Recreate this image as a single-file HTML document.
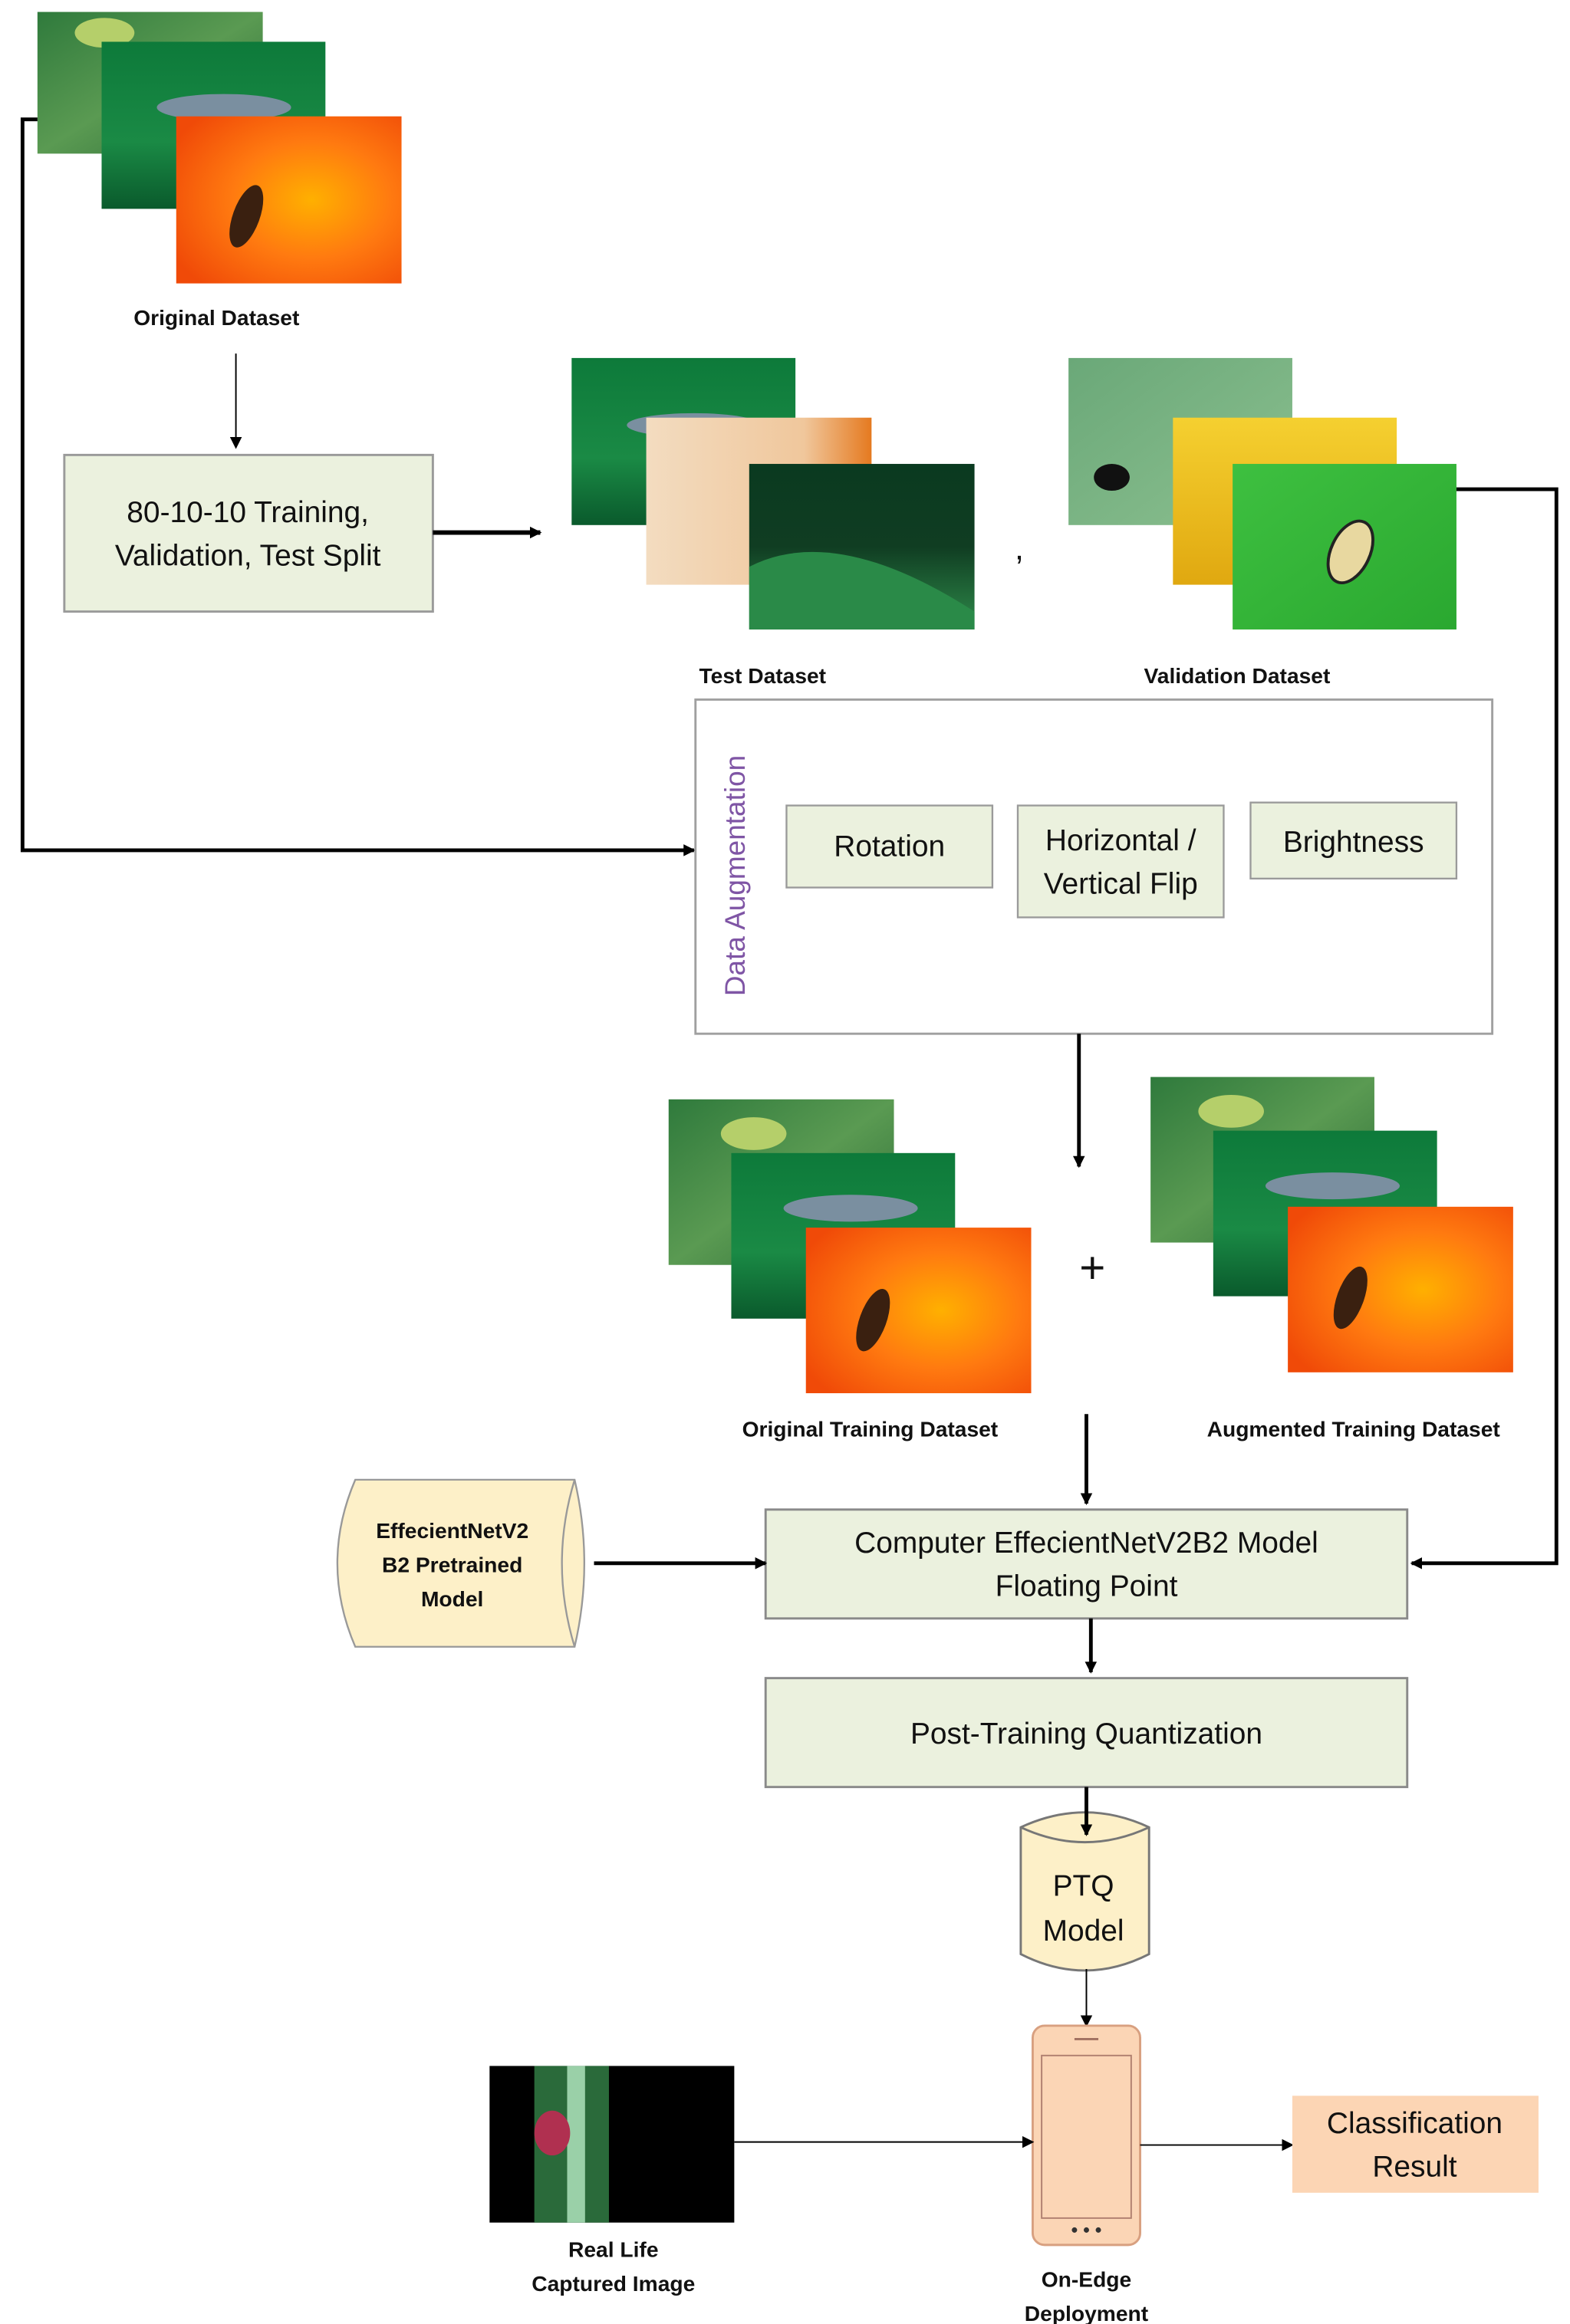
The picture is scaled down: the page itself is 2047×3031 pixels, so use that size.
<!DOCTYPE html>
<html><head><meta charset="utf-8"><style>
html,body{margin:0;padding:0;background:#fff}
svg{display:block}
text{font-family:"Liberation Sans",sans-serif;fill:#111}
</style></head><body>
<svg width="2047" height="3031" viewBox="0 0 1052 1558" xmlns="http://www.w3.org/2000/svg">
<defs>
<marker id="a" markerWidth="8" markerHeight="8" refX="7" refY="4" orient="auto" markerUnits="userSpaceOnUse"><path d="M0,0 L8,4 L0,8 z" fill="#000"/></marker>
<linearGradient id="gs" x1="0" y1="0" x2="1" y2="1"><stop offset="0" stop-color="#2f7a3c"/><stop offset="0.5" stop-color="#5a9a52"/><stop offset="1" stop-color="#2a6a35"/></linearGradient>
<linearGradient id="gd" x1="0" y1="0" x2="0" y2="1"><stop offset="0" stop-color="#0d7a3a"/><stop offset="0.6" stop-color="#1a8a45"/><stop offset="1" stop-color="#0a5a2c"/></linearGradient>
<radialGradient id="go" cx="0.6" cy="0.5" r="0.7"><stop offset="0" stop-color="#ffb000"/><stop offset="0.5" stop-color="#ff7a10"/><stop offset="1" stop-color="#f04a08"/></radialGradient>
<linearGradient id="gb" x1="0" y1="0" x2="1" y2="0"><stop offset="0" stop-color="#f3dcc0"/><stop offset="0.7" stop-color="#f0c79c"/><stop offset="1" stop-color="#e57a20"/></linearGradient>
<linearGradient id="gk" x1="0" y1="0" x2="0" y2="1"><stop offset="0" stop-color="#0a3a20"/><stop offset="0.5" stop-color="#103d22"/><stop offset="1" stop-color="#2e8a4a"/></linearGradient>
<linearGradient id="gl" x1="0" y1="0" x2="1" y2="1"><stop offset="0" stop-color="#6aa878"/><stop offset="1" stop-color="#8cc090"/></linearGradient>
<linearGradient id="gy" x1="0" y1="0" x2="0" y2="1"><stop offset="0" stop-color="#f5d030"/><stop offset="1" stop-color="#e0a810"/></linearGradient>
<linearGradient id="gg" x1="0" y1="0" x2="1" y2="1"><stop offset="0" stop-color="#3ec040"/><stop offset="1" stop-color="#2aa830"/></linearGradient>
</defs>

<!-- Original dataset images -->
<rect x="25" y="8" width="151" height="95" fill="url(#gs)"/>
<ellipse cx="70" cy="22" rx="20" ry="10" fill="#b5cf6a"/>
<rect x="68" y="28" width="150" height="112" fill="url(#gd)"/>
<ellipse cx="150" cy="72" rx="45" ry="9" fill="#7a8fa0"/>
<rect x="118" y="78" width="151" height="112" fill="url(#go)"/>
<ellipse cx="165" cy="145" rx="9" ry="22" fill="#3a2010" transform="rotate(20 165 145)"/>
<text x="145" y="218" font-size="14.5" font-weight="bold" text-anchor="middle">Original Dataset</text>

<line x1="158" y1="237" x2="158" y2="300" stroke="#000" stroke-width="1" marker-end="url(#a)"/>
<rect x="43" y="305" width="247" height="105" fill="#ebf1de" stroke="#9a9a9a" stroke-width="1.5"/>
<text x="166" y="350" font-size="20" text-anchor="middle">80-10-10 Training,</text>
<text x="166" y="379" font-size="20" text-anchor="middle">Validation, Test Split</text>
<line x1="290" y1="357" x2="362" y2="357" stroke="#000" stroke-width="3" marker-end="url(#a)"/>

<!-- Test dataset -->
<rect x="383" y="240" width="150" height="112" fill="url(#gd)"/>
<ellipse cx="465" cy="285" rx="45" ry="8" fill="#7a8fa0"/>
<rect x="433" y="280" width="151" height="112" fill="url(#gb)"/>
<rect x="502" y="311" width="151" height="111" fill="url(#gk)"/>
<path d="M502 380 Q560 350 653 410 L653 422 L502 422z" fill="#2a8a48"/>
<text x="683" y="375" font-size="22" text-anchor="middle">,</text>
<!-- Validation -->
<rect x="716" y="240" width="150" height="112" fill="url(#gl)"/>
<ellipse cx="745" cy="320" rx="12" ry="9" fill="#111"/>
<rect x="786" y="280" width="150" height="112" fill="url(#gy)"/>
<rect x="826" y="311" width="150" height="111" fill="url(#gg)"/>
<ellipse cx="905" cy="370" rx="13" ry="22" fill="#e8d8a0" stroke="#222" stroke-width="2" transform="rotate(25 905 370)"/>
<text x="511" y="458" font-size="14.5" font-weight="bold" text-anchor="middle">Test Dataset</text>
<text x="829" y="458" font-size="14.5" font-weight="bold" text-anchor="middle">Validation Dataset</text>

<polyline points="976,328 1043,328 1043,1048 946,1048" fill="none" stroke="#000" stroke-width="2.5" marker-end="url(#a)"/>
<polyline points="25,80 15,80 15,570 465,570" fill="none" stroke="#000" stroke-width="2.5" marker-end="url(#a)"/>

<!-- Augmentation box -->
<rect x="466" y="469" width="534" height="224" fill="#fff" stroke="#a0a0a0" stroke-width="1.5"/>
<text x="0" y="0" font-size="19" fill="#7f55a5" style="fill:#7f55a5" text-anchor="middle" transform="translate(499 587) rotate(-90)">Data Augmentation</text>
<rect x="527" y="540" width="138" height="55" fill="#ebf1de" stroke="#9a9a9a" stroke-width="1.2"/>
<text x="596" y="574" font-size="20" text-anchor="middle">Rotation</text>
<rect x="682" y="540" width="138" height="75" fill="#ebf1de" stroke="#9a9a9a" stroke-width="1.2"/>
<text x="751" y="570" font-size="20" text-anchor="middle">Horizontal /</text>
<text x="751" y="599" font-size="20" text-anchor="middle">Vertical Flip</text>
<rect x="838" y="538" width="138" height="51" fill="#ebf1de" stroke="#9a9a9a" stroke-width="1.2"/>
<text x="907" y="571" font-size="20" text-anchor="middle">Brightness</text>
<line x1="723" y1="693" x2="723" y2="782" stroke="#000" stroke-width="2.5" marker-end="url(#a)"/>

<!-- Training sets -->
<rect x="448" y="737" width="151" height="111" fill="url(#gs)"/>
<ellipse cx="505" cy="760" rx="22" ry="11" fill="#b5cf6a"/>
<rect x="490" y="773" width="150" height="111" fill="url(#gd)"/>
<ellipse cx="570" cy="810" rx="45" ry="9" fill="#7a8fa0"/>
<rect x="540" y="823" width="151" height="111" fill="url(#go)"/>
<ellipse cx="585" cy="885" rx="9" ry="22" fill="#3a2010" transform="rotate(20 585 885)"/>
<text x="732" y="860" font-size="30" text-anchor="middle">+</text>
<rect x="771" y="722" width="150" height="111" fill="url(#gs)"/>
<ellipse cx="825" cy="745" rx="22" ry="11" fill="#b5cf6a"/>
<rect x="813" y="758" width="150" height="111" fill="url(#gd)"/>
<ellipse cx="893" cy="795" rx="45" ry="9" fill="#7a8fa0"/>
<rect x="863" y="809" width="151" height="111" fill="url(#go)"/>
<ellipse cx="905" cy="870" rx="9" ry="22" fill="#3a2010" transform="rotate(20 905 870)"/>
<text x="583" y="963" font-size="14.5" font-weight="bold" text-anchor="middle">Original Training Dataset</text>
<text x="907" y="963" font-size="14.5" font-weight="bold" text-anchor="middle">Augmented Training Dataset</text>

<line x1="728" y1="948" x2="728" y2="1008" stroke="#000" stroke-width="2.5" marker-end="url(#a)"/>
<rect x="513" y="1012" width="430" height="73" fill="#ebf1de" stroke="#8a8a8a" stroke-width="1.5"/>
<text x="728" y="1041" font-size="20" text-anchor="middle">Computer EffecientNetV2B2 Model</text>
<text x="728" y="1070" font-size="20" text-anchor="middle">Floating Point</text>

<!-- horizontal cylinder -->
<path d="M238 992 L385 992 Q398 1048 385 1104 L238 1104 Q214 1048 238 992z" fill="#fdf0c8" stroke="#999" stroke-width="1.2"/>
<path d="M385 992 Q368 1048 385 1104" fill="none" stroke="#999" stroke-width="1.2"/>
<text x="303" y="1031" font-size="14.5" font-weight="bold" text-anchor="middle">EffecientNetV2</text>
<text x="303" y="1054" font-size="14.5" font-weight="bold" text-anchor="middle">B2 Pretrained</text>
<text x="303" y="1077" font-size="14.5" font-weight="bold" text-anchor="middle">Model</text>
<line x1="398" y1="1048" x2="513" y2="1048" stroke="#000" stroke-width="2.5" marker-end="url(#a)"/>

<line x1="731" y1="1085" x2="731" y2="1121" stroke="#000" stroke-width="2.5" marker-end="url(#a)"/>
<rect x="513" y="1125" width="430" height="73" fill="#ebf1de" stroke="#8a8a8a" stroke-width="1.5"/>
<text x="728" y="1169" font-size="20" text-anchor="middle">Post-Training Quantization</text>

<!-- PTQ cylinder -->
<path d="M684 1225 Q727 1205 770 1225 L770 1310 Q727 1332 684 1310z" fill="#fdf0c8" stroke="#777" stroke-width="1.5"/>
<path d="M684 1225 Q727 1245 770 1225" fill="none" stroke="#777" stroke-width="1.5"/>
<line x1="728" y1="1198" x2="728" y2="1230" stroke="#000" stroke-width="2.5" marker-end="url(#a)"/>
<text x="726" y="1271" font-size="20" text-anchor="middle">PTQ</text>
<text x="726" y="1301" font-size="20" text-anchor="middle">Model</text>
<line x1="728" y1="1320" x2="728" y2="1358" stroke="#000" stroke-width="1" marker-end="url(#a)"/>

<!-- phone -->
<rect x="692" y="1358" width="72" height="147" rx="8" fill="#fbd5b5" stroke="#d8a080" stroke-width="1.5"/>
<rect x="698" y="1378" width="60" height="109" fill="#fbd5b5" stroke="#b08070" stroke-width="1"/>
<line x1="720" y1="1367" x2="736" y2="1367" stroke="#a07060" stroke-width="1.5"/>
<circle cx="720" cy="1495" r="1.8" fill="#333"/><circle cx="728" cy="1495" r="1.8" fill="#333"/><circle cx="736" cy="1495" r="1.8" fill="#333"/>
<text x="728" y="1533" font-size="14.5" font-weight="bold" text-anchor="middle">On-Edge</text>
<text x="728" y="1556" font-size="14.5" font-weight="bold" text-anchor="middle">Deployment</text>

<!-- real life image -->
<rect x="328" y="1385" width="164" height="105" fill="#000"/>
<rect x="358" y="1385" width="50" height="105" fill="#2a6a3a"/>
<rect x="380" y="1385" width="12" height="105" fill="#9ad0a8"/>
<ellipse cx="370" cy="1430" rx="12" ry="15" fill="#b03050"/>
<text x="411" y="1513" font-size="14.5" font-weight="bold" text-anchor="middle">Real Life</text>
<text x="411" y="1536" font-size="14.5" font-weight="bold" text-anchor="middle">Captured Image</text>
<line x1="492" y1="1436" x2="692" y2="1436" stroke="#000" stroke-width="1" marker-end="url(#a)"/>
<line x1="764" y1="1438" x2="866" y2="1438" stroke="#000" stroke-width="1" marker-end="url(#a)"/>
<rect x="866" y="1405" width="165" height="65" fill="#fcd5b4"/>
<text x="948" y="1430" font-size="20" text-anchor="middle">Classification</text>
<text x="948" y="1459" font-size="20" text-anchor="middle">Result</text>
</svg>
</body></html>
